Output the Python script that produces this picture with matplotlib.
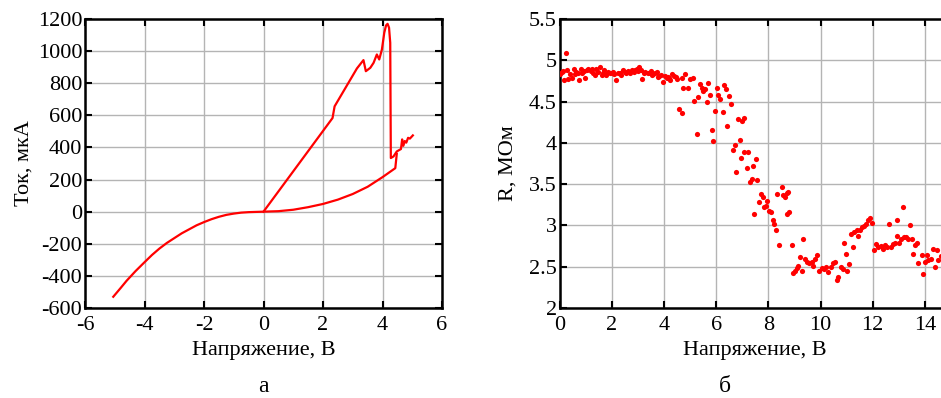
import matplotlib
matplotlib.use("Agg")
import matplotlib.pyplot as plt

plt.rcParams['font.family'] = ['Liberation Serif', 'DejaVu Serif']
plt.rcParams['axes.unicode_minus'] = False

# --- (а) ВАХ: нижняя ветвь (от -5 В до 4.4 В) ---
v_low = [-5.05, -4.8, -4.6, -4.3, -4.0, -3.75, -3.5, -3.25, -3.0, -2.75, -2.5,
         -2.25, -2.0, -1.75, -1.5, -1.25, -1.0, -0.75, -0.5, 0.0,
         0.5, 1.0, 1.5, 2.0, 2.5, 3.0, 3.5, 4.0, 4.43, 4.48]
i_low = [-530, -475, -430, -370, -315, -270, -230, -195, -165, -135, -110,
         -85, -65, -47, -32, -20, -12, -6, -3, 0,
         3, 12, 28, 48, 75, 110, 155, 215, 271, 360]

# верхняя ветвь с пиком и сбросом
v_up = [0.0, 2.32, 2.39, 3.14, 3.36, 3.44, 3.59, 3.70, 3.81, 3.89, 3.98,
        4.06, 4.12, 4.17, 4.22, 4.26, 4.28, 4.37, 4.48, 4.62, 4.66, 4.70,
        4.75, 4.80, 4.86, 4.92, 5.02]
i_up = [0, 583, 656, 892, 944, 875, 896, 927, 979, 948, 1010,
        1115, 1160, 1170, 1146, 1052, 334, 344, 375, 390, 450, 410,
        440, 430, 460, 455, 475]

# --- (б) сопротивление ---
r_v = [0.0, 0.15, 0.25, 0.18, 0.34, 0.40, 0.47, 0.55, 0.59, 0.76, 0.81, 0.85,
       0.98, 1.04, 1.10, 1.19, 1.30, 1.40, 1.49, 1.55, 1.62, 1.71, 1.78, 1.87,
       2.00, 2.09, 2.16, 2.25, 2.34, 2.45, 2.55, 2.64, 2.77, 2.86, 2.96, 3.05,
       3.11, 3.18, 3.28, 3.38, 3.49, 3.60, 3.72, 3.83, 3.96, 4.04, 4.21, 4.30,
       4.39, 4.49, 0.08, 0.30, 0.65, 0.70, 0.92, 1.25, 1.35, 1.65, 1.95, 2.05,
       2.30, 2.50, 2.70, 2.90, 3.00, 3.22, 3.45, 3.55, 3.67, 3.78, 3.90, 4.10,
       4.15, 4.25, 4.45,
       4.59, 4.71, 4.68, 4.74, 4.80, 4.93, 4.99, 5.10, 5.15, 5.26, 5.32, 5.38,
       5.45, 5.51, 5.58, 5.66, 5.70, 5.77, 5.84, 5.87, 5.96, 6.02, 6.09, 6.15,
       6.25, 6.30, 6.38, 6.43, 6.50, 6.56, 6.63, 6.72, 6.76, 6.85, 6.92, 6.98,
       7.07, 6.94, 7.07, 7.17, 7.24, 7.30, 7.36, 7.42, 7.46, 7.53, 7.58, 7.66,
       7.71, 7.79, 7.84, 7.91, 7.96, 8.04, 8.09, 8.17, 8.22, 8.30, 8.35, 8.42,
       8.51, 8.58, 8.64, 8.70, 8.77, 8.70, 8.80, 8.90, 8.96, 9.02, 9.09, 9.15,
       9.22, 9.28, 9.34, 9.41, 9.50, 9.57, 9.66, 9.73, 9.79, 9.88, 9.95, 10.04,
       10.13, 10.21, 10.30, 10.39, 10.47, 10.56, 10.62, 10.68, 10.78, 10.85,
       10.90, 10.98, 11.03, 11.10, 11.16, 11.23, 11.28, 11.38, 11.45, 11.51,
       11.58, 11.67, 11.74, 11.83, 11.90, 11.96, 12.05, 12.13, 12.22, 12.31,
       12.38, 12.47, 12.54, 12.64, 12.69, 12.77, 12.85, 12.92, 12.94, 13.02,
       13.07, 13.15, 13.20, 13.28, 13.36, 13.43, 13.49, 13.56, 13.62, 13.69,
       13.75, 13.88, 13.94, 14.00, 14.07, 14.13, 14.22, 14.30, 14.39, 14.45,
       14.52, 14.61]
r_val = [4.83, 4.87, 5.09, 4.76, 4.77, 4.83, 4.79, 4.90, 4.83, 4.76, 4.90, 4.85,
         4.78, 4.88, 4.90, 4.87, 4.84, 4.90, 4.86, 4.92, 4.82, 4.88, 4.82, 4.86,
         4.85, 4.83, 4.76, 4.85, 4.82, 4.88, 4.85, 4.87, 4.88, 4.86, 4.90, 4.92,
         4.88, 4.77, 4.86, 4.84, 4.87, 4.83, 4.86, 4.81, 4.74, 4.81, 4.79, 4.83,
         4.81, 4.77, 4.86, 4.88, 4.86, 4.84, 4.87, 4.89, 4.82, 4.85, 4.84, 4.86,
         4.84, 4.86, 4.85, 4.88, 4.87, 4.85, 4.85, 4.82, 4.84, 4.80, 4.82, 4.78,
         4.80, 4.76, 4.80,
         4.41, 4.36, 4.79, 4.67, 4.83, 4.67, 4.77, 4.79, 4.51, 4.11, 4.55, 4.71,
         4.66, 4.63, 4.65, 4.50, 4.72, 4.58, 4.16, 4.02, 4.39, 4.67, 4.58, 4.53,
         4.37, 4.70, 4.65, 4.20, 4.57, 4.47, 3.91, 3.97, 3.65, 4.29, 4.03, 4.26,
         4.30, 3.82, 3.89, 3.69, 3.89, 3.53, 3.56, 3.72, 3.14, 3.80, 3.55, 3.28,
         3.38, 3.35, 3.22, 3.24, 3.29, 3.17, 3.16, 3.07, 3.02, 2.95, 3.38, 2.76,
         3.46, 3.37, 3.34, 3.39, 3.40, 3.14, 3.16, 2.76, 2.42, 2.45, 2.48, 2.51,
         2.62, 2.45, 2.83, 2.59, 2.56, 2.54, 2.56, 2.51, 2.59, 2.64, 2.45, 2.48,
         2.47, 2.50, 2.44, 2.50, 2.54, 2.56, 2.34, 2.38, 2.50, 2.47,
         2.79, 2.66, 2.45, 2.53, 2.90, 2.74, 2.92, 2.94, 2.87, 2.95,
         2.98, 2.99, 3.02, 3.07, 3.09, 3.03, 2.70, 2.78, 2.74, 2.75,
         2.71, 2.76, 2.74, 3.02, 2.74, 2.78, 2.79, 2.87, 3.07, 2.79,
         2.84, 3.22, 2.86, 2.86, 2.83, 3.00, 2.83, 2.65, 2.76, 2.79,
         2.54, 2.64, 2.41, 2.56, 2.64, 2.58, 2.59, 2.72, 2.50, 2.70,
         2.58, 2.63]

xlabel = 'Напряжение, В'


def style_axes(ax):
    ax.grid(True, color='#b4b4b4', linewidth=1.0)
    ax.set_axisbelow(True)
    for s in ax.spines.values():
        s.set_linewidth(1.8)
    ax.tick_params(direction='in', length=5, width=1.5, labelsize=16,
                   top=True, right=True)
    ax.tick_params(axis='x', pad=6)
    ax.tick_params(axis='y', pad=2)


fig = plt.figure(figsize=(9.41, 3.98), dpi=100)
W, H = 941, 398

ax1 = fig.add_axes([85 / W, 1 - 308 / H, (442 - 85) / W, (308 - 19) / H])
ax1.plot(v_low, i_low, color='#ff0000', lw=1.6)
ax1.plot(v_up, i_up, color='#ff0000', lw=1.6)
ax1.set_xlim(-6, 6)
ax1.set_ylim(-600, 1200)
ax1.set_xticks(range(-6, 7, 2))
ax1.set_yticks(range(-600, 1201, 200))
style_axes(ax1)
ax1.set_xlabel(xlabel, fontsize=16, labelpad=4)
ax1.set_ylabel('Ток, мкА', fontsize=16, labelpad=3)
fig.text((85 + 442) / 2 / W, 1 - 387 / H, 'а', fontsize=17,
         ha='center', va='center')

ax2 = fig.add_axes([559.5 / W, 1 - 308 / H, 391.5 / W, (308 - 19) / H])
ax2.scatter(r_v, r_val, s=14, color='#ff0000', linewidths=0, zorder=3)
ax2.set_xlim(0, 15)
ax2.set_ylim(2, 5.5)
ax2.set_xticks(range(0, 15, 2))
ax2.set_yticks([2, 2.5, 3, 3.5, 4, 4.5, 5, 5.5])
ax2.set_yticklabels(['2', '2.5', '3', '3.5', '4', '4.5', '5', '5.5'])
style_axes(ax2)
ax2.set_xlabel(xlabel, fontsize=16, labelpad=4)
ax2.set_ylabel('R, МОм', fontsize=16, labelpad=8)
fig.text(725 / W, 1 - 387 / H, 'б', fontsize=17, ha='center', va='center')

fig.savefig('out.png', dpi=100)
